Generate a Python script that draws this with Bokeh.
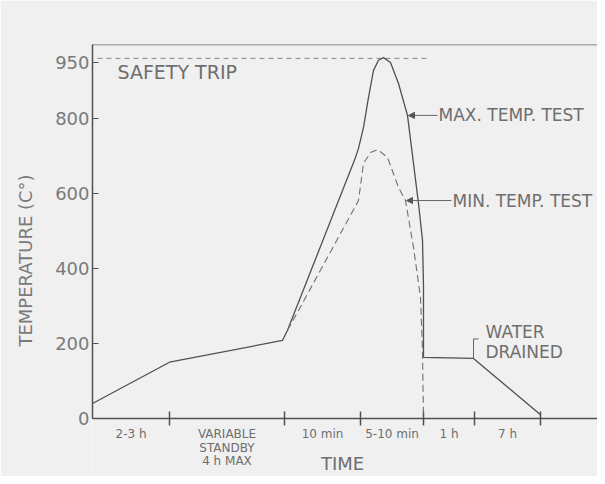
from bokeh.plotting import figure
from bokeh.models import Range1d, FixedTicker, Span, Label, Arrow, NormalHead
from bokeh.embed import file_html
from bokeh.resources import INLINE

# ---- data ----
seg_edges = [0, 77, 192, 268, 331, 382, 448]
seg_labels = ["2-3 h", "VARIABLE\nSTANDBY\n4 h MAX", "10 min", "5-10 min", "1 h", "7 h"]

max_x = [0, 77, 190, 195, 263, 266, 271, 276, 281, 286, 291, 298, 306, 315, 321, 326, 330, 331, 331, 381, 448]
max_y = [40, 150, 208, 235, 696, 720, 776, 856, 928, 955, 962, 949, 893, 808, 680, 573, 475, 355, 163, 160, 10]

min_x = [195, 206, 266, 271, 278, 285, 295, 306, 313, 321, 328, 330, 331]
min_y = [235, 288, 581, 680, 709, 717, 696, 616, 581, 456, 323, 181, 0]

y_ticks = [0, 200, 400, 600, 800, 950]
y_top = 997
safety_trip = 960
safety_span = [5, 335]
max_label_idx = 13   # point on max curve the label points to
min_label_idx = 8    # point on min curve the label points to
drained_idx = 19     # water drained point

FONT = "DejaVu Sans"
TXT = "#6e6e6e"
LINE = "#505050"
BG = "#f0f0f0"
PX = 1 / 0.375       # data units of temperature per screen pixel

p = figure(width=597, height=476, output_backend="svg", toolbar_location=None,
           x_range=Range1d(0, 505), y_range=Range1d(-58 * PX, y_top),
           x_axis_location=None,
           min_border_left=92, min_border_top=44, min_border_bottom=0, min_border_right=0,
           background_fill_color=BG, border_fill_color=BG, outline_line_color=None)
p.grid.visible = False

# y axis
p.yaxis.ticker = FixedTicker(ticks=y_ticks)
p.yaxis.bounds = (0, y_top)
p.yaxis.major_tick_in = 6
p.yaxis.major_tick_out = 0
p.yaxis.minor_tick_line_color = None
p.yaxis.axis_line_color = LINE
p.yaxis.axis_line_width = 1.5
p.yaxis.major_tick_line_color = LINE
p.yaxis.major_label_text_font = FONT
p.yaxis.major_label_text_font_size = "18px"
p.yaxis.major_label_text_color = "#7a7a7a"
p.yaxis.major_label_standoff = 3
p.yaxis.axis_label = "TEMPERATURE (C°)"
p.yaxis.axis_label_text_font = FONT
p.yaxis.axis_label_text_font_style = "normal"
p.yaxis.axis_label_text_font_size = "18px"
p.yaxis.axis_label_text_color = "#7a7a7a"
p.yaxis.axis_label_standoff = 16

# x axis line and segment tick marks
p.add_layout(Span(location=0, dimension="width", line_color=LINE, line_width=1.5))
p.segment(x0=seg_edges[1:], y0=[-7 * PX] * 6, x1=seg_edges[1:], y1=[7 * PX] * 6,
          line_color=LINE, line_width=1.5)

# top frame line
p.add_layout(Span(location=y_top, dimension="width", line_color="#666666", line_width=1.5))

# safety trip line
p.line(safety_span, [safety_trip, safety_trip], line_color="#888888", line_width=1, line_dash="5 4")
p.add_layout(Label(x=safety_span[0] + 20, y=safety_trip - 37, text="SAFETY TRIP",
                   text_font=FONT, text_font_size="19px", text_color=TXT,
                   text_baseline="middle"))

# curves
p.line(max_x, max_y, line_color=LINE, line_width=1.3)
p.line(min_x, min_y, line_color="#707070", line_width=1.1, line_dash="7 4")

# curve labels
mx, my = max_x[max_label_idx], max_y[max_label_idx]
p.add_layout(Arrow(x_start=mx + 30, y_start=my, x_end=mx + 1, y_end=my,
                   line_color="#666666", line_width=1,
                   end=NormalHead(size=6, fill_color="#555555", line_color="#555555")))
p.add_layout(Label(x=mx + 31, y=my, text="MAX. TEMP. TEST", text_font=FONT,
                   text_font_size="17px", text_color=TXT, text_baseline="middle"))

nx, ny = min_x[min_label_idx], min_y[min_label_idx]
p.add_layout(Arrow(x_start=nx + 46, y_start=ny, x_end=nx + 1, y_end=ny,
                   line_color="#666666", line_width=1,
                   end=NormalHead(size=6, fill_color="#555555", line_color="#555555")))
p.add_layout(Label(x=nx + 47, y=ny, text="MIN. TEMP. TEST", text_font=FONT,
                   text_font_size="17px", text_color=TXT, text_baseline="middle"))

# water drained marker
dx, dy = max_x[drained_idx], max_y[drained_idx]
p.line([dx, dx, dx + 5], [dy, dy + 52, dy + 52], line_color="#666666", line_width=1)
p.add_layout(Label(x=dx + 12, y=dy + 45, text="WATER\nDRAINED", text_font=FONT,
                   text_font_size="17px", text_color=TXT, text_baseline="middle",
                   text_line_height=1.0))

# segment labels
for i, lab in enumerate(seg_labels):
    cx = (seg_edges[i] + seg_edges[i + 1]) / 2
    p.add_layout(Label(x=cx, y=-9 * PX, text=lab, text_font=FONT, text_font_size="12px",
                       text_color=TXT, text_align="center", text_baseline="top",
                       text_line_height=0.95))

p.add_layout(Label(x=250, y=-45 * PX, text="TIME", text_font=FONT, text_font_size="18px",
                   text_color=TXT, text_align="center", text_baseline="middle"))

open("out.html", "w").write(file_html(p, INLINE))
